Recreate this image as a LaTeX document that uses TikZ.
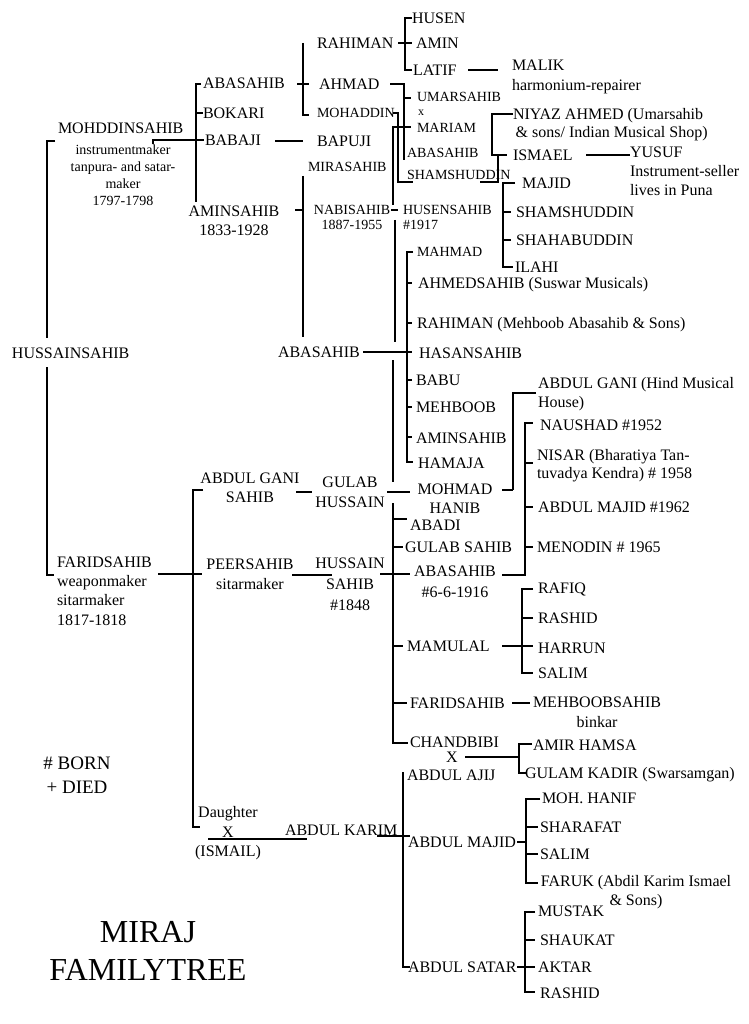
\documentclass[tikz,border=0pt]{standalone}
\usepackage{fontspec}
\setmainfont{Liberation Serif}
\begin{document}
\begin{tikzpicture}[x=1pt,y=-1pt,
  t/.style={inner sep=0pt, outer sep=0pt, font=\fontsize{16}{19.5}\selectfont, anchor=north west, yshift=5.3pt},
  s/.style={inner sep=0pt, outer sep=0pt, font=\fontsize{14}{17}\selectfont, anchor=north west, yshift=4.6pt},
  tc/.style={t, anchor=north, align=center},
  tl/.style={t, align=left},
  ln/.style={line width=2.2pt}
]
\path[fill=white] (0,0) rectangle (748,1024);
\useasboundingbox (0,0) rectangle (748,1024);

% ---------- nodes ----------
\node[t] (mohd) at (58,128) {MOHDDINSAHIB};
\node[s, anchor=north, align=center] (mohdd) at (123,149) {instrumentmaker\\tanpura- and satar-\\maker\\1797-1798};
\node[t] (hus) at (12,353) {HUSSAINSAHIB};
\node[t] (aba1) at (203,83) {ABASAHIB};
\node[t] (bok) at (203,113) {BOKARI};
\node[t] (bab) at (205,140) {BABAJI};
\node[tc, font=\fontsize{16}{19}\selectfont] (amin1) at (234,211) {AMINSAHIB\\1833-1928};
\node[t] (rah1) at (317,43) {RAHIMAN};
\node[t] (ahm) at (319,84) {AHMAD};
\node[s] (moh) at (317,113) {MOHADDIN};
\node[t] (bap) at (317,141) {BAPUJI};
\node[s] (mira) at (308,167) {MIRASAHIB};
\node[s, anchor=north, align=center, font=\fontsize{14}{15}\selectfont] (nabi) at (352,210) {NABISAHIB\\1887-1955};
\node[t] (husen) at (412,18) {HUSEN};
\node[t] (amin2) at (416,43) {AMIN};
\node[t] (latif) at (413,70) {LATIF};
\node[tl, font=\fontsize{16}{20}\selectfont] (malik) at (512,65) {MALIK\\harmonium-repairer};
\node[s] (umar) at (417,97) {UMARSAHIB};
\node[inner sep=0pt, font=\fontsize{12}{14}\selectfont] (x1) at (421,113) {x};
\node[s] (mariam) at (417,128) {MARIAM};
\node[s] (aba2) at (407,153) {ABASAHIB};
\node[s] (sham1) at (407,175) {SHAMSHUDDIN};
\node[s, align=left, font=\fontsize{14}{15}\selectfont] (husens) at (403,210) {HUSENSAHIB\\\#1917};
\node[tl, font=\fontsize{16}{18}\selectfont] (niyaz) at (513,114) {NIYAZ AHMED (Umarsahib\\\,\& sons/ Indian Musical Shop)};
\node[t] (ismael) at (513,155) {ISMAEL};
\node[tl, font=\fontsize{16}{19}\selectfont] (yusuf) at (630,152) {YUSUF\\Instrument-seller\\lives in Puna};
\node[t] (majid1) at (522,183) {MAJID};
\node[t] (sham2) at (516,212) {SHAMSHUDDIN};
\node[t] (shaha) at (516,240) {SHAHABUDDIN};
\node[t] (ilahi) at (515,267) {ILAHI};
\node[s] (mahmad) at (417,252) {MAHMAD};
\node[t] (ahmeds) at (418,283) {AHMEDSAHIB (Suswar Musicals)};
\node[t] (rah2) at (417,323) {RAHIMAN (Mehboob Abasahib \& Sons)};
\node[t] (aba3) at (278,352) {ABASAHIB};
\node[t] (hasan) at (419,353) {HASANSAHIB};
\node[t] (babu) at (416,380) {BABU};
\node[t] (mehb) at (416,407) {MEHBOOB};
\node[t] (amin3) at (416,438) {AMINSAHIB};
\node[t] (hamaja) at (418,463) {HAMAJA};
\node[tl, font=\fontsize{16}{19}\selectfont] (agani2) at (538,383) {ABDUL GANI (Hind Musical\\House)};
\node[t] (naushad) at (540,425) {NAUSHAD \#1952};
\node[tl, font=\fontsize{16}{18}\selectfont] (nisar) at (537,455) {NISAR (Bharatiya Tan-\\tuvadya Kendra) \# 1958};
\node[t] (amajid1) at (538,507) {ABDUL MAJID \#1962};
\node[t] (menodin) at (537,547) {MENODIN \# 1965};
\node[tc, font=\fontsize{16}{19}\selectfont] (agani1) at (250,478) {ABDUL GANI\\SAHIB};
\node[tc, font=\fontsize{16}{20}\selectfont] (gulab1) at (350,482) {GULAB\\HUSSAIN};
\node[tc, font=\fontsize{16}{19}\selectfont] (mohmad) at (455,489) {MOHMAD\\HANIB};
\node[t] (abadi) at (410,525) {ABADI};
\node[t] (gulab2) at (405,547) {GULAB SAHIB};
\node[tc, font=\fontsize{16}{21}\selectfont] (aba4) at (455,571) {ABASAHIB\\\#6-6-1916};
\node[tl, font=\fontsize{16}{19.3}\selectfont] (farid1) at (57,562) {FARIDSAHIB\\weaponmaker\\sitarmaker\\1817-1818};
\node[tc, font=\fontsize{16}{20}\selectfont] (peer) at (250,564) {PEERSAHIB\\sitarmaker};
\node[tc, font=\fontsize{16}{21}\selectfont] (hussain2) at (350,563) {HUSSAIN\\SAHIB\\\#1848};
\node[t] (mamulal) at (407,646) {MAMULAL};
\node[t] (rafiq) at (538,588) {RAFIQ};
\node[t] (rashid1) at (538,618) {RASHID};
\node[t] (harrun) at (538,648) {HARRUN};
\node[t] (salim1) at (538,673) {SALIM};
\node[t] (farid2) at (410,703) {FARIDSAHIB};
\node[tc, font=\fontsize{16}{20}\selectfont] (mehbs) at (597,702) {MEHBOOBSAHIB\\binkar};
\node[t] (chand) at (410,742) {CHANDBIBI};
\node[t, anchor=north] (x2) at (452,757) {X};
\node[t] (amir) at (533,745) {AMIR HAMSA};
\node[t] (gulam) at (525,773) {GULAM KADIR (Swarsamgan)};
\node[inner sep=0pt, align=center, font=\fontsize{19}{24}\selectfont] (legend) at (77,775) {\# BORN\\+ DIED};
\node[tc, font=\fontsize{16}{19.5}\selectfont] (daughter) at (228,812) {Daughter\\X\\(ISMAIL)};
\node[t] (akarim) at (285,830) {ABDUL KARIM};
\node[t] (aajij) at (407,775) {ABDUL AJIJ};
\node[t] (amajid2) at (408,842) {ABDUL MAJID};
\node[t] (asatar) at (408,967) {ABDUL SATAR};
\node[t] (mhanif) at (542,798) {MOH. HANIF};
\node[t] (sharafat) at (540,827) {SHARAFAT};
\node[t] (salim2) at (540,854) {SALIM};
\node[tc, font=\fontsize{16}{19}\selectfont] (faruk) at (636,881) {FARUK (Abdil Karim Ismael\\\& Sons)};
\node[t] (mustak) at (538,911) {MUSTAK};
\node[t] (shaukat) at (540,940) {SHAUKAT};
\node[t] (aktar) at (538,967) {AKTAR};
\node[t] (rashid2) at (540,993) {RASHID};
\node[inner sep=0pt, align=center, font=\fontsize{32}{38}\selectfont] (title) at (148,951) {MIRAJ\\FAMILYTREE};

% ---------- connectors ----------
% Hussainsahib bracket
\draw[ln] (55,141) -- (47,141) -- (47,338);
\draw[ln] (47,367) -- (47,575) -- (54,575);
% Mohddinsahib children
\draw[ln] (153,144) -- (153,140) -- (204,140);
\draw[ln] (201,84) -- (196,84) -- (196,202);
\draw[ln] (196,113) -- (203,113);
\draw[ln] (275,141) -- (303,141);
% Abasahib -> Rahiman/Ahmad/Mohaddin
\draw[ln] (297,84) -- (309,84);
\draw[ln] (303,43) -- (303,115) -- (309,115);
% Rahiman children
\draw[ln] (398,43) -- (412,43);
\draw[ln] (412,18) -- (405,18) -- (405,70) -- (412,70);
\draw[ln] (468,70) -- (498,70);
% Ahmad / Mohaddin / Mariam lines
\draw[ln] (390,84) -- (404,84) -- (404,160);
\draw[ln] (404,98) -- (411,98);
\draw[ln] (393,113) -- (398,113) -- (398,182) -- (413,182);
\draw[ln] (392,127) -- (411,127);
\draw[ln] (393,127) -- (393,205);
% Shamshuddin children
\draw[ln] (480,182) -- (498,182) -- (498,155);
\draw[ln] (513,114) -- (492,114) -- (492,155) -- (507,155);
\draw[ln] (586,155) -- (630,155);
\draw[ln] (515,183) -- (503,183) -- (503,267) -- (513,267);
\draw[ln] (503,212) -- (511,212);
\draw[ln] (503,240) -- (511,240);
% Aminsahib children
\draw[ln] (295,210) -- (303,210);
\draw[ln] (303,176) -- (303,337);
\draw[ln] (391,210) -- (398,210);
\draw[ln] (395,220) -- (395,342);
\draw[ln] (393,360) -- (393,482);
% Abasahib -> Mahmad ... Hamaja
\draw[ln] (363,352) -- (412,352);
\draw[ln] (413,252) -- (407,252) -- (407,462) -- (413,462);
\foreach \yy in {283,323,380,407,437} \draw[ln] (407,\yy) -- (412,\yy);
% Gulab Hussain -> Mohmad
\draw[ln] (296,492) -- (312,492);
\draw[ln] (387,492) -- (410,492);
\draw[ln] (502,490) -- (513,490);
\draw[ln] (536,393) -- (513,393) -- (513,490);
% Abasahib #6-6-1916 children
\draw[ln] (502,575) -- (525,575) -- (525,423) -- (533,423);
\foreach \yy in {463,507,547} \draw[ln] (525,\yy) -- (533,\yy);
% Faridsahib children
\draw[ln] (203,490) -- (193,490) -- (193,827) -- (200,827);
\draw[ln] (158,574) -- (202,574);
\draw[ln] (292,575) -- (332,575);
\draw[ln] (380,574) -- (410,574);
% Hussain Sahib children
\draw[ln] (393,503) -- (393,743) -- (408,743);
\draw[ln] (393,519) -- (407,519);
\draw[ln] (393,547) -- (403,547);
\draw[ln] (393,646) -- (403,646);
\draw[ln] (393,703) -- (407,703);
% Mamulal children
\draw[ln] (502,646) -- (533,646);
\draw[ln] (533,589) -- (522,589) -- (522,673) -- (533,673);
\draw[ln] (522,618) -- (533,618);
\draw[ln] (512,703) -- (530,703);
% Chandbibi children
\draw[ln] (465,757) -- (520,757);
\draw[ln] (532,744) -- (519,744) -- (519,773) -- (527,773);
% Daughter x Ismail
\draw[ln] (208,839) -- (307,839);
% Abdul Karim children
\draw[ln] (377,836) -- (410,836);
\draw[ln] (403,772) -- (403,967) -- (410,967);
% Abdul Majid children
\draw[ln] (517,842) -- (526,842);
\draw[ln] (540,799) -- (526,799) -- (526,883) -- (538,883);
\draw[ln] (526,827) -- (538,827);
\draw[ln] (526,854) -- (538,854);
% Abdul Satar children
\draw[ln] (517,967) -- (535,967);
\draw[ln] (535,912) -- (525,912) -- (525,992) -- (535,992);
\draw[ln] (525,940) -- (535,940);
\end{tikzpicture}
\end{document}
